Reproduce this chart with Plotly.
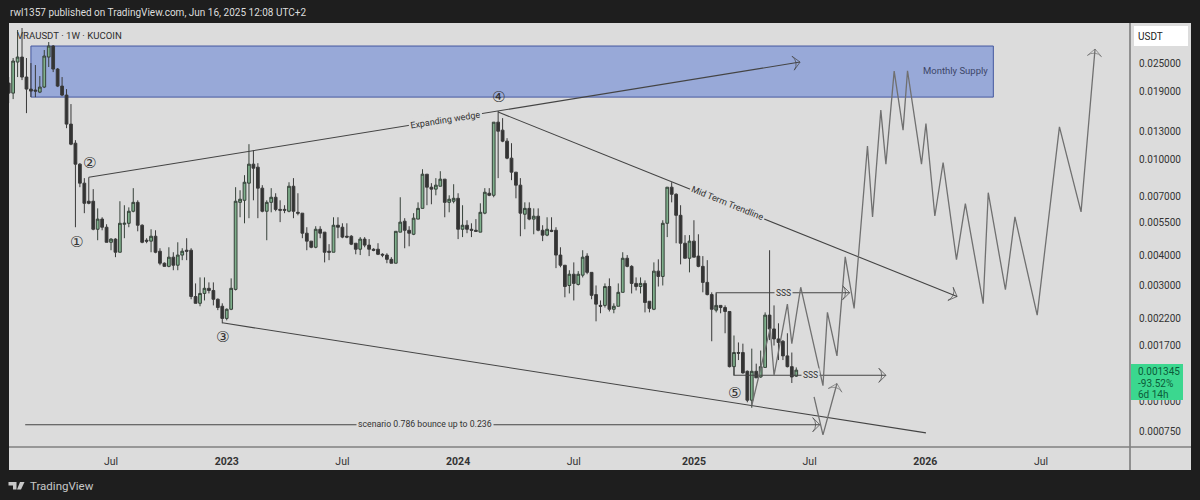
import numpy as np
import pandas as pd
import plotly.graph_objects as go

# weekly candles VRAUSDT
opens = [0.02066, 0.01878, 0.02524, 0.02647, 0.02188, 0.01951, 0.01933, 0.01896, 0.01989, 0.02647,
         0.02940, 0.02361, 0.02008, 0.01843, 0.01398, 0.01166, 0.00955, 0.00797, 0.00671, 0.00671,
         0.00514, 0.00566, 0.00524, 0.00454, 0.00468, 0.00413, 0.00539, 0.00544, 0.00610, 0.00664,
         0.00534, 0.00463, 0.00459, 0.00481, 0.00417, 0.00372, 0.00361, 0.00394, 0.00365, 0.00402,
         0.00421, 0.00421, 0.00271, 0.00254, 0.00279, 0.00293, 0.00287, 0.00264, 0.00247, 0.00220,
         0.00240, 0.00290, 0.00664, 0.00677, 0.00797, 0.00955, 0.00928, 0.00760, 0.00610, 0.00664,
         0.00697, 0.00621, 0.00621, 0.00610, 0.00774, 0.00604, 0.00599, 0.00495, 0.00459, 0.00433,
         0.00514, 0.00500, 0.00417, 0.00413, 0.00534, 0.00524, 0.00481, 0.00481, 0.00450, 0.00425,
         0.00468, 0.00442, 0.00425, 0.00425, 0.00405, 0.00402, 0.00386, 0.00372, 0.00500, 0.00555,
         0.00509, 0.00490, 0.00566, 0.00627, 0.00868, 0.00767, 0.00753, 0.00774, 0.00828, 0.00664,
         0.00671, 0.00690, 0.00514, 0.00534, 0.00514, 0.00509, 0.00500, 0.00599, 0.00724, 0.00710,
         0.01424, 0.01320, 0.01189, 0.01011, 0.00885, 0.00782, 0.00593, 0.00627, 0.00566, 0.00582,
         0.00509, 0.00486, 0.00509, 0.00509, 0.00402, 0.00365, 0.00301, 0.00335, 0.00304, 0.00332,
         0.00398, 0.00341, 0.00276, 0.00249, 0.00249, 0.00298, 0.00240, 0.00247, 0.00282, 0.00390,
         0.00361, 0.00307, 0.00298, 0.00307, 0.00259, 0.00240, 0.00345, 0.00328, 0.00544, 0.00767,
         0.00717, 0.00587, 0.00450, 0.00390, 0.00459, 0.00398, 0.00361, 0.00310, 0.00276, 0.00238,
         0.00249, 0.00244, 0.00235, 0.00139, 0.00159, 0.00159, 0.00133, 0.00101, 0.00133, 0.00126,
         0.00138, 0.00227, 0.00199, 0.00181, 0.00177, 0.00154, 0.00139, 0.00127]
highs = [0.02188, 0.02622, 0.03424, 0.03490, 0.02622, 0.02500, 0.02453, 0.02209, 0.02830, 0.03054,
         0.02968, 0.02384, 0.02188, 0.01951, 0.01692, 0.01200, 0.00964, 0.00836, 0.00843, 0.00753,
         0.00627, 0.00576, 0.00539, 0.00472, 0.00472, 0.00671, 0.00646, 0.00633, 0.00760, 0.00677,
         0.00539, 0.00472, 0.00514, 0.00509, 0.00429, 0.00375, 0.00433, 0.00413, 0.00454, 0.00429,
         0.00472, 0.00429, 0.00307, 0.00325, 0.00325, 0.00310, 0.00310, 0.00266, 0.00254, 0.00242,
         0.00322, 0.00767, 0.00745, 0.00860, 0.01155, 0.01091, 0.00964, 0.00782, 0.00677, 0.00760,
         0.00724, 0.00677, 0.00646, 0.00804, 0.00836, 0.00724, 0.00599, 0.00524, 0.00459, 0.00529,
         0.00529, 0.00500, 0.00446, 0.00576, 0.00576, 0.00544, 0.00544, 0.00486, 0.00450, 0.00477,
         0.00477, 0.00468, 0.00429, 0.00450, 0.00409, 0.00409, 0.00394, 0.00504, 0.00697, 0.00571,
         0.00529, 0.00599, 0.00664, 0.00910, 0.00868, 0.00797, 0.00836, 0.00893, 0.00828, 0.00710,
         0.00789, 0.00724, 0.00646, 0.00560, 0.00544, 0.00566, 0.00658, 0.00760, 0.00760, 0.01424,
         0.01583, 0.01480, 0.01223, 0.01166, 0.00885, 0.00836, 0.00664, 0.00664, 0.00627, 0.00627,
         0.00534, 0.00576, 0.00576, 0.00524, 0.00433, 0.00365, 0.00348, 0.00375, 0.00345, 0.00421,
         0.00409, 0.00341, 0.00301, 0.00261, 0.00307, 0.00322, 0.00254, 0.00307, 0.00413, 0.00402,
         0.00365, 0.00325, 0.00325, 0.00316, 0.00259, 0.00375, 0.00386, 0.00560, 0.00767, 0.00804,
         0.00724, 0.00646, 0.00486, 0.00486, 0.00560, 0.00490, 0.00398, 0.00383, 0.00282, 0.00279,
         0.00249, 0.00249, 0.00235, 0.00187, 0.00175, 0.00173, 0.00134, 0.00165, 0.00143, 0.00162,
         0.00233, 0.00421, 0.00249, 0.00210, 0.00179, 0.00191, 0.00159, 0.00138]
lows = [0.01708, 0.01774, 0.02188, 0.02126, 0.01552, 0.01808, 0.01808, 0.01878, 0.01970, 0.02407,
        0.02294, 0.01989, 0.01825, 0.01345, 0.01144, 0.00524, 0.00767, 0.00599, 0.00652, 0.00509,
        0.00463, 0.00509, 0.00454, 0.00421, 0.00394, 0.00413, 0.00472, 0.00524, 0.00604, 0.00504,
        0.00450, 0.00450, 0.00413, 0.00409, 0.00365, 0.00361, 0.00358, 0.00348, 0.00348, 0.00383,
        0.00383, 0.00264, 0.00254, 0.00247, 0.00261, 0.00279, 0.00249, 0.00238, 0.00210, 0.00216,
        0.00238, 0.00287, 0.00576, 0.00544, 0.00571, 0.00677, 0.00571, 0.00604, 0.00463, 0.00604,
        0.00610, 0.00550, 0.00599, 0.00604, 0.00571, 0.00587, 0.00472, 0.00421, 0.00429, 0.00429,
        0.00472, 0.00375, 0.00383, 0.00413, 0.00472, 0.00472, 0.00472, 0.00442, 0.00405, 0.00402,
        0.00433, 0.00398, 0.00417, 0.00402, 0.00394, 0.00372, 0.00372, 0.00372, 0.00500, 0.00429,
        0.00437, 0.00486, 0.00566, 0.00627, 0.00646, 0.00652, 0.00710, 0.00774, 0.00576, 0.00604,
        0.00658, 0.00468, 0.00477, 0.00495, 0.00477, 0.00504, 0.00500, 0.00593, 0.00704, 0.00697,
        0.00836, 0.01177, 0.01001, 0.00820, 0.00690, 0.00481, 0.00514, 0.00560, 0.00490, 0.00504,
        0.00459, 0.00481, 0.00500, 0.00355, 0.00358, 0.00269, 0.00279, 0.00261, 0.00301, 0.00325,
        0.00335, 0.00264, 0.00214, 0.00231, 0.00244, 0.00235, 0.00231, 0.00247, 0.00282, 0.00358,
        0.00279, 0.00287, 0.00279, 0.00233, 0.00233, 0.00238, 0.00298, 0.00301, 0.00477, 0.00664,
        0.00450, 0.00368, 0.00390, 0.00341, 0.00394, 0.00358, 0.00282, 0.00274, 0.00177, 0.00233,
        0.00231, 0.00191, 0.00138, 0.00128, 0.00148, 0.00130, 0.00099, 0.00094, 0.00125, 0.00125,
        0.00138, 0.00179, 0.00170, 0.00148, 0.00148, 0.00138, 0.00119, 0.00126]
closes = [0.01878, 0.02548, 0.02647, 0.02188, 0.01951, 0.01914, 0.01914, 0.01989, 0.02672, 0.02940,
          0.02361, 0.02008, 0.01843, 0.01398, 0.01155, 0.00955, 0.00797, 0.00658, 0.00658, 0.00514,
          0.00566, 0.00524, 0.00454, 0.00468, 0.00413, 0.00544, 0.00544, 0.00610, 0.00664, 0.00534,
          0.00454, 0.00459, 0.00481, 0.00413, 0.00372, 0.00361, 0.00394, 0.00365, 0.00402, 0.00417,
          0.00417, 0.00271, 0.00254, 0.00279, 0.00293, 0.00287, 0.00264, 0.00244, 0.00220, 0.00240,
          0.00293, 0.00671, 0.00684, 0.00804, 0.00955, 0.00919, 0.00760, 0.00610, 0.00664, 0.00697,
          0.00621, 0.00616, 0.00616, 0.00774, 0.00610, 0.00599, 0.00495, 0.00459, 0.00433, 0.00514,
          0.00495, 0.00413, 0.00413, 0.00534, 0.00524, 0.00477, 0.00477, 0.00446, 0.00425, 0.00468,
          0.00442, 0.00425, 0.00421, 0.00405, 0.00402, 0.00386, 0.00372, 0.00504, 0.00550, 0.00509,
          0.00495, 0.00571, 0.00627, 0.00868, 0.00767, 0.00753, 0.00782, 0.00828, 0.00664, 0.00684,
          0.00690, 0.00514, 0.00534, 0.00514, 0.00509, 0.00504, 0.00604, 0.00731, 0.00710, 0.01424,
          0.01307, 0.01189, 0.01011, 0.00885, 0.00782, 0.00599, 0.00627, 0.00566, 0.00582, 0.00509,
          0.00486, 0.00514, 0.00504, 0.00402, 0.00365, 0.00298, 0.00335, 0.00307, 0.00335, 0.00394,
          0.00341, 0.00274, 0.00252, 0.00247, 0.00298, 0.00240, 0.00247, 0.00282, 0.00390, 0.00361,
          0.00307, 0.00298, 0.00307, 0.00256, 0.00242, 0.00345, 0.00328, 0.00544, 0.00767, 0.00717,
          0.00587, 0.00450, 0.00390, 0.00459, 0.00394, 0.00361, 0.00310, 0.00276, 0.00240, 0.00249,
          0.00244, 0.00235, 0.00139, 0.00159, 0.00158, 0.00131, 0.00101, 0.00133, 0.00125, 0.00139,
          0.00227, 0.00199, 0.00181, 0.00175, 0.00154, 0.00139, 0.00126, 0.001345]
first_candle = "2022-01-24"

# drawings on the chart
wedge_top_dates = ["2022-05-30", "2025-06-22"]
wedge_top_prices = [0.00843, 0.02524]
wedge_low_dates = ["2022-12-26", "2026-01-06"]
wedge_low_prices = [0.00211, 0.00074]
trend_dates = ["2024-03-04", "2026-02-24"]
trend_prices = [0.01568, 0.00271]
sss_top_dates = ["2025-02-10", "2025-02-10", "2025-09-08"]
sss_top_prices = [0.00238, 0.00281, 0.00281]
sss_low_dates = ["2025-03-10", "2025-03-10", "2025-11-04"]
sss_low_prices = [0.00139, 0.00128, 0.00128]
scenario_dates = ["2022-02-19", "2025-07-23"]
scenario_prices = [0.00080, 0.00080]
bounce_dates = ["2025-07-14", "2025-07-28", "2025-08-19"]
bounce_prices = [0.001042, 0.000726, 0.001184]
path_dates = ["2025-04-07", "2025-05-06", "2025-05-12", "2025-06-02", "2025-06-09", "2025-06-23", "2025-07-28",
              "2025-08-04", "2025-08-19", "2025-09-01", "2025-09-15", "2025-10-06", "2025-10-14", "2025-10-27",
              "2025-11-04", "2025-11-17", "2025-12-01", "2025-12-08", "2025-12-30", "2026-01-06", "2026-01-20",
              "2026-02-02", "2026-02-23", "2026-03-09", "2026-04-06", "2026-04-14", "2026-05-11", "2026-05-26",
              "2026-06-30", "2026-08-04", "2026-09-07", "2026-09-29"]
path_prices = [0.00096, 0.00200, 0.00128, 0.00252, 0.00173, 0.00296, 0.00116,
               0.00233, 0.00154, 0.00395, 0.00242, 0.01136, 0.00578, 0.01598,
               0.00955, 0.02316, 0.01320, 0.02323, 0.00955, 0.01407, 0.00583,
               0.00970, 0.00385, 0.00656, 0.00253, 0.00728, 0.00289, 0.00578,
               0.00227, 0.01362, 0.00606, 0.02857]
supply_dates = ["2022-02-28", "2026-04-22"]
supply_prices = [0.01808, 0.0294]

y_ticks = [0.025, 0.019, 0.013, 0.01, 0.007, 0.0055, 0.004, 0.003, 0.0022, 0.0017, 0.001, 0.00075]
y_labels = ["0.025000", "0.019000", "0.013000", "0.010000", "0.007000", "0.005500",
            "0.004000", "0.003000", "0.002200", "0.001700", "0.001000", "0.000750"]
x_ticks = ["2022-07-04", "2023-01-02", "2023-07-03", "2024-01-01", "2024-07-01",
           "2025-01-06", "2025-07-07", "2026-01-05", "2026-07-06"]
x_labels = ["Jul", "<b>2023</b>", "Jul", "<b>2024</b>", "Jul", "<b>2025</b>", "Jul", "<b>2026</b>", "Jul"]

DARK = "#1e1e1e"
PANE = "#dcdcdc"
LINE = "#444444"
FONT = "Roboto"

# plot rectangle in window pixels
LEFT, RIGHT, TOP, BOTTOM = 9, 1130, 23, 447


def px_x(x):
    return (x - LEFT) / (RIGHT - LEFT)


def px_y(y):
    return (BOTTOM - y) / (BOTTOM - TOP)


dates = pd.date_range(first_candle, periods=len(opens), freq="7D")

fig = go.Figure()
fig.add_trace(go.Candlestick(
    x=dates, open=opens, high=highs, low=lows, close=closes,
    whiskerwidth=0,
    increasing=dict(fillcolor="#7fb08c", line=dict(color="#37423a", width=1)),
    decreasing=dict(fillcolor="#333333", line=dict(color="#3a3a3a", width=1)),
    hoverinfo="skip",
))


def add_line(xs, ys, color=LINE, width=1.1, arrow=True):
    sizes = [0] * (len(xs) - 1) + [10 if arrow else 0]
    edge = [0] * (len(xs) - 1) + [1 if arrow else 0]
    fig.add_trace(go.Scatter(
        x=xs, y=ys, mode="lines+markers",
        line=dict(color=color, width=width),
        marker=dict(symbol="arrow-wide-open", size=sizes, angleref="previous",
                    color=color, line=dict(color=color, width=edge)),
        hoverinfo="skip",
    ))


add_line(wedge_top_dates, wedge_top_prices)
add_line(wedge_low_dates, wedge_low_prices, arrow=False)
add_line(trend_dates, trend_prices)
add_line(sss_top_dates, sss_top_prices)
add_line(sss_low_dates, sss_low_prices)
add_line(scenario_dates, scenario_prices)
add_line(path_dates, path_prices, color="#707070", width=1.3)
add_line(bounce_dates, bounce_prices, color="#707070", width=1.3)


def label(x, y, text, size=10, color="#333333", angle=0, bg=None, font=FONT, anchor="center"):
    fig.add_annotation(xref="paper", yref="paper", x=px_x(x), y=px_y(y), text=text,
                       xanchor=anchor, yanchor="middle",
                       showarrow=False, textangle=angle, bgcolor=bg, borderpad=1,
                       font=dict(family=font, size=size, color=color))


label(445, 120, "Expanding wedge", size=9, angle=-9, bg=PANE)
label(727, 203, "Mid Term Trendline", size=9, angle=22, bg=PANE)
label(783, 293, "SSS", size=8.5, bg=PANE)
label(810, 375, "SSS", size=8.5, bg=PANE)
label(425, 424, "scenario 0.786 bounce up to 0.236", size=8.7, bg=PANE)
label(955, 71, "Monthly Supply", size=9.5, color="#3d4668")
for cx, cy, mark in [(76, 242, "①"), (89, 163, "②"), (222, 337, "③"), (498, 97, "④"), (734, 393, "⑤")]:
    label(cx, cy, mark, size=15, font="DejaVu Sans")

label(15, 35, "VRAUSDT · 1W · KUCOIN", size=9.6, color="#2e2e2e", anchor="left")
label(8, 13, "rwl1357 published on TradingView.com, Jun 16, 2025 12:08 UTC+2", size=10, color="#dddddd", anchor="left")
label(28, 486, "TradingView", size=11.5, color="#c8c8c8", anchor="left")
label(1150, 36, "USDT", size=10, color="#222222", anchor="center")

# last price tag, one annotation per row so the rows sit as tight as the reference
label(1136, 371, "0.001345", size=10, color="#0b5c3a", anchor="left")
label(1136, 383, "-93.52%", size=10, color="#0b5c3a", anchor="left")
label(1136, 394, "6d 14h", size=10, color="#0b5c3a", anchor="left")

shapes = [
    # pane strips outside the plot rectangle
    dict(type="rect", xref="paper", yref="paper", x0=1, x1=px_x(1191), y0=px_y(470), y1=1,
         fillcolor=PANE, line_width=0, layer="below"),
    dict(type="rect", xref="paper", yref="paper", x0=0, x1=1, y0=px_y(470), y1=0,
         fillcolor=PANE, line_width=0, layer="below"),
    dict(type="line", xref="paper", yref="paper", x0=1, x1=1, y0=px_y(470), y1=1,
         line=dict(color="#777777", width=1.5)),
    dict(type="line", xref="paper", yref="paper", x0=0, x1=px_x(1191), y0=0, y1=0,
         line=dict(color="#808080", width=1.5)),
    # supply box
    dict(type="rect", xref="x", yref="y", x0=supply_dates[0], x1=supply_dates[1],
         y0=supply_prices[0], y1=supply_prices[1], fillcolor="#98a9d8",
         line=dict(color="#45589f", width=1), layer="below"),
    # USDT button
    dict(type="rect", xref="paper", yref="paper", x0=px_x(1134), x1=px_x(1188), y0=px_y(46), y1=px_y(26),
         fillcolor="#ffffff", line_width=0, layer="below"),
    # last price tag background, covers part of the 0.001000 tick like the reference
    dict(type="rect", xref="paper", yref="paper", x0=px_x(1131), x1=px_x(1183), y0=px_y(400), y1=px_y(364),
         fillcolor="#3bd78f", line_width=0, layer="above"),
    # TradingView logo
    dict(type="path", xref="paper", yref="paper", fillcolor="#c8c8c8", line_width=0,
         path="M {} {} L {} {} L {} {} L {} {} L {} {} L {} {} Z".format(
             px_x(8.5), px_y(482), px_x(16.5), px_y(482), px_x(16.5), px_y(489.5),
             px_x(13), px_y(489.5), px_x(13), px_y(485.5), px_x(8.5), px_y(485.5))),
    dict(type="path", xref="paper", yref="paper", fillcolor="#c8c8c8", line_width=0,
         path="M {} {} L {} {} L {} {} L {} {} Z".format(
             px_x(20), px_y(482), px_x(24.5), px_y(482), px_x(21), px_y(489.5), px_x(17), px_y(489.5))),
]

fig.update_layout(
    width=1200, height=500,
    margin=dict(l=LEFT, r=1200 - RIGHT, t=TOP, b=500 - BOTTOM, autoexpand=False),
    paper_bgcolor=DARK, plot_bgcolor=PANE,
    showlegend=False,
    boxgap=0.12,
    shapes=shapes,
    font=dict(family=FONT, size=10, color="#333333"),
    xaxis=dict(type="date", range=["2022-01-24 12:00", "2026-11-23"], rangeslider=dict(visible=False),
               tickmode="array", tickvals=x_ticks, ticktext=x_labels, showgrid=False, zeroline=False,
               ticks="", ticklabelstandoff=6, tickfont=dict(size=10.5, color="#333333")),
    yaxis=dict(type="log", side="right", range=[np.log10(0.000647), np.log10(0.0366)],
               tickmode="array", tickvals=y_ticks, ticktext=y_labels, showgrid=False, zeroline=False,
               ticks="", ticklabelstandoff=8, tickfont=dict(size=10, color="#333333")),
)

# the page's default body margin would push the figure off the window
fig.write_html("out.html", config={"displayModeBar": False},
               post_script="document.body.style.margin='0';document.body.style.overflow='hidden';")
